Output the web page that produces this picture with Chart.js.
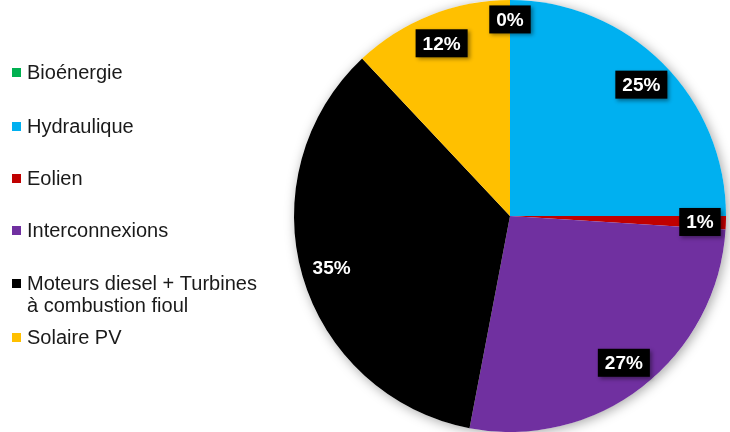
<!DOCTYPE html>
<html>
<head>
<meta charset="utf-8">
<script src="https://cdn.jsdelivr.net/npm/chart.js@4"></script>
<style>
  html, body { margin: 0; padding: 0; background: #fff; }
  #wrap { width: 730px; height: 432px; position: relative; }
</style>
</head>
<body>
<div id="wrap"><canvas id="chartId" width="730" height="432"></canvas></div>
<script>
var categories = ['Bioénergie', 'Hydraulique', 'Eolien', 'Interconnexions', ['Moteurs diesel + Turbines', 'à combustion fioul'], 'Solaire PV']
var values = [0, 25, 1, 27, 35, 12]
var colors = ['#00B050', '#00B0F0', '#C00000', '#7030A0', '#000000', '#FFC000']
var legendY = [72, 126, 178, 230, 283, 337]

// white disc with soft shadow behind the pie
var pieShadow = {
    id: 'pieShadow',
    beforeDatasetsDraw(chart) {
        var arc = chart.getDatasetMeta(0).data[0]
        if (!arc) return
        var ctx = chart.ctx
        ctx.save()
        ctx.shadowColor = 'rgba(0,0,0,0.35)'
        ctx.shadowBlur = 12
        ctx.shadowOffsetX = 2
        ctx.shadowOffsetY = 2
        ctx.fillStyle = '#fff'
        ctx.beginPath()
        ctx.arc(arc.x, arc.y, arc.outerRadius, 0, Math.PI * 2)
        ctx.fill()
        ctx.restore()
    }
}

// percentage labels in black boxes
var boxLabels = {
    id: 'boxLabels',
    afterDatasetsDraw(chart) {
        var ctx = chart.ctx
        var meta = chart.getDatasetMeta(0)
        ctx.save()
        ctx.font = 'bold 19px "Liberation Sans", Arial, sans-serif'
        ctx.textAlign = 'center'
        ctx.textBaseline = 'middle'
        meta.data.forEach(function (arc, i) {
            var mid = (arc.startAngle + arc.endAngle) / 2
            var r = arc.outerRadius * (values[i] < 1 ? 0.91 : (values[i] < 2 ? 0.88 : 0.86))
            var x = arc.x + Math.cos(mid) * r
            var y = arc.y + Math.sin(mid) * r
            var txt = Math.round(values[i]) + '%'
            var w = ctx.measureText(txt).width + 14
            var h = 28
            ctx.shadowColor = 'rgba(0,0,0,0.4)'
            ctx.shadowBlur = 4
            ctx.shadowOffsetX = 2
            ctx.shadowOffsetY = 2
            ctx.fillStyle = '#000'
            ctx.fillRect(x - w / 2, y - h / 2, w, h)
            ctx.shadowColor = 'transparent'
            ctx.fillStyle = '#fff'
            ctx.fillText(txt, x, y + 1)
        })
        ctx.restore()
    }
}

// legend on the left
var sideLegend = {
    id: 'sideLegend',
    afterDraw(chart) {
        var ctx = chart.ctx
        ctx.save()
        ctx.font = '20px "Liberation Sans", Arial, sans-serif'
        ctx.textBaseline = 'middle'
        ctx.textAlign = 'left'
        categories.forEach(function (lab, i) {
            var y = legendY[i]
            ctx.fillStyle = colors[i]
            ctx.fillRect(12, y - 4, 9, 9)
            ctx.fillStyle = '#1a1a1a'
            var lines = Array.isArray(lab) ? lab : [lab]
            lines.forEach(function (t, j) {
                ctx.fillText(t, 27, y + 1 + j * 22)
            })
        })
        ctx.restore()
    }
}

var chrt = document.getElementById('chartId').getContext('2d')
var pieChart = new Chart(chrt, {
    type: 'pie',
    data: {
        labels: categories,
        datasets: [{
            data: values,
            backgroundColor: colors,
            borderWidth: 0
        }]
    },
    options: {
        responsive: false,
        animation: false,
        layout: { padding: { left: 290, right: 0, top: 0, bottom: 0 } },
        plugins: {
            legend: { display: false },
            tooltip: { enabled: false }
        }
    },
    plugins: [pieShadow, boxLabels, sideLegend]
})
</script>
</body>
</html>
